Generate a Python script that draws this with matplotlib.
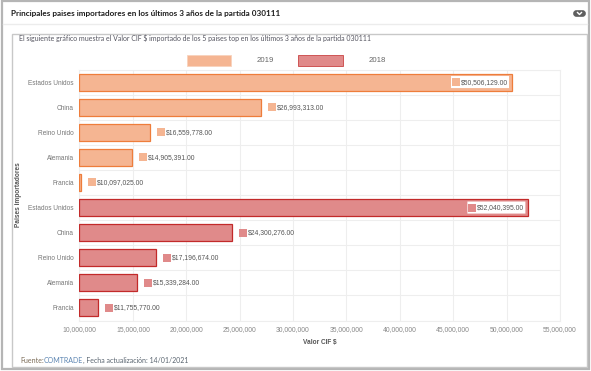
#!/usr/bin/env python3
import matplotlib
matplotlib.use("Agg")
import matplotlib.pyplot as plt
from matplotlib.patches import Rectangle, FancyBboxPatch
from matplotlib.transforms import ScaledTranslation
from matplotlib.ticker import FuncFormatter

paises = ["Estados Unidos", "China", "Reino Unido", "Alemania", "Francia"]
valores_2019 = [50506129, 26993313, 16559778, 14905391, 10097025]
valores_2018 = [52040395, 24300276, 17196674, 15339284, 11755770]
anios = ["2019", "2018"]
ticks = [10000000, 15000000, 20000000, 25000000, 30000000,
         35000000, 40000000, 45000000, 50000000, 55000000]
W, H = 591, 371
GRIS = "#666666"
FILL_19, EDGE_19 = "#f5b592", "#ee7d3b"
FILL_18, EDGE_18 = "#e08a8a", "#c22a2a"

plt.rcParams["font.family"] = ["Liberation Sans", "DejaVu Sans"]
fig = plt.figure(figsize=(W / 100, H / 100), dpi=100)
bg = fig.add_axes([0, 0, 1, 1])
bg.set_xlim(0, W); bg.set_ylim(H, 0); bg.axis("off")

# marcos de la pagina
bg.add_patch(Rectangle((1.5, 1), 587, 368, fc="white", ec="#b5b5b5", lw=1.6))
bg.plot([3, 587], [24, 24], color="#ececec", lw=1)
bg.add_patch(Rectangle((11.5, 33.5), 575, 333, fc="white", ec="#c8c8c8", lw=1))
bg.text(11, 13.5, "Principales paises importadores en los últimos 3 años de la partida 030111",
        fontsize=5.85, fontweight="bold", family="Lato", color="#1c1c1c", va="center")
bg.add_patch(FancyBboxPatch((574, 11), 11, 5, boxstyle="round,pad=0,rounding_size=2.5",
                            mutation_aspect=1, fc="#5f5f5f", ec="#5f5f5f", lw=1.2))
bg.plot([577.5, 579.5, 581.5], [12.5, 14.5, 12.5], color="white", lw=1)
bg.text(19, 38.5, "El siguiente gráfico muestra el Valor CIF $ importado de los 5 paises top en los últimos 3 años de la partida 030111",
        fontsize=5.0, family="Lato", color="#555560", va="center")
bg.text(20, 360.5, "Fuente:", fontsize=5.0, family="Lato", color="#7a6a55", va="center")
bg.text(44, 360.5, "COMTRADE", fontsize=5.0, family="Lato", color="#5b84b1", va="center")
bg.text(83, 360.5, ", Fecha actualización: 14/01/2021", fontsize=5.0, family="Lato", color="#5a6570", va="center")

# leyenda
bg.add_patch(Rectangle((187, 55), 44, 11, fc=FILL_19, ec="#f8d3bd", lw=0.6))
bg.text(265, 60.5, anios[0], fontsize=5.6, color=GRIS, ha="center", va="center")
bg.add_patch(Rectangle((298, 55), 45, 11, fc=FILL_18, ec=EDGE_18, lw=0.5))
bg.text(377, 60.5, anios[1], fontsize=5.6, color=GRIS, ha="center", va="center")

ax = fig.add_axes([79.5 / W, 1 - 320.5 / H, 480.5 / W, 251 / H], facecolor="none")
cats = paises + paises
vals = valores_2019 + valores_2018
fills = [FILL_19] * 5 + [FILL_18] * 5
edges = [EDGE_19] * 5 + [EDGE_18] * 5
pos = list(range(10))
ax.barh(pos, [v - ticks[0] for v in vals], left=ticks[0], height=0.68,
        color=fills, edgecolor=edges, linewidth=0.9, zorder=3)
ax.set_xlim(ticks[0], ticks[-1])
ax.set_ylim(9.5, -0.5)
ax.set_xticks(ticks)
ax.xaxis.set_major_formatter(FuncFormatter(lambda v, _: f"{int(v):,}"))
ax.set_yticks(pos)
ax.set_yticklabels(cats)
ax.set_yticks([p - 0.5 for p in range(11)], minor=True)
ax.tick_params(which="both", length=0)
ax.tick_params(axis="x", labelsize=4.9, labelcolor="#888888", pad=4)
ax.tick_params(axis="y", labelsize=4.7, labelcolor="#777777", pad=4)
ax.grid(which="minor", axis="y", color="#eeeeee", lw=0.8, zorder=0)
ax.grid(which="major", axis="x", color="#eeeeee", lw=0.8, zorder=0)
for s in ax.spines.values():
    s.set_color("#eeeeee"); s.set_linewidth(0.8)
ax.set_xlabel("Valor CIF $", fontsize=4.7, fontweight="bold", color="#555555", labelpad=4)
ax.set_ylabel("Paises importadores", fontsize=4.7, fontweight="bold", color="#555555")
ax.yaxis.set_label_coords((22 - 79.5) / 480.5, 0.5)

# etiquetas con cuadrito de color
escala = (ticks[-1] - ticks[0]) / 480.5
for i, v in enumerate(vals):
    dentro = i in (0, 5)
    dx = -60 if dentro else 7
    off = ScaledTranslation((dx + 4) / 100, 0, fig.dpi_scale_trans)
    ax.plot([v], [i], marker="s", ms=5.2, color=fills[i], mew=0,
            transform=ax.transData + off, zorder=6)
    ax.annotate(f"${v:,.2f}", (v, i), xytext=((dx + 9) * 0.72, 0), textcoords="offset points",
                fontsize=4.85, color="#555555", va="center", zorder=7)
    if dentro:
        ax.add_patch(FancyBboxPatch((v - 61 * escala, i - 0.24), 58 * escala, 0.48,
                                    boxstyle="round,pad=0,rounding_size=0.1", mutation_aspect=1,
                                    fc="white", ec="none", zorder=5))

fig.savefig("out.png", dpi=100)
